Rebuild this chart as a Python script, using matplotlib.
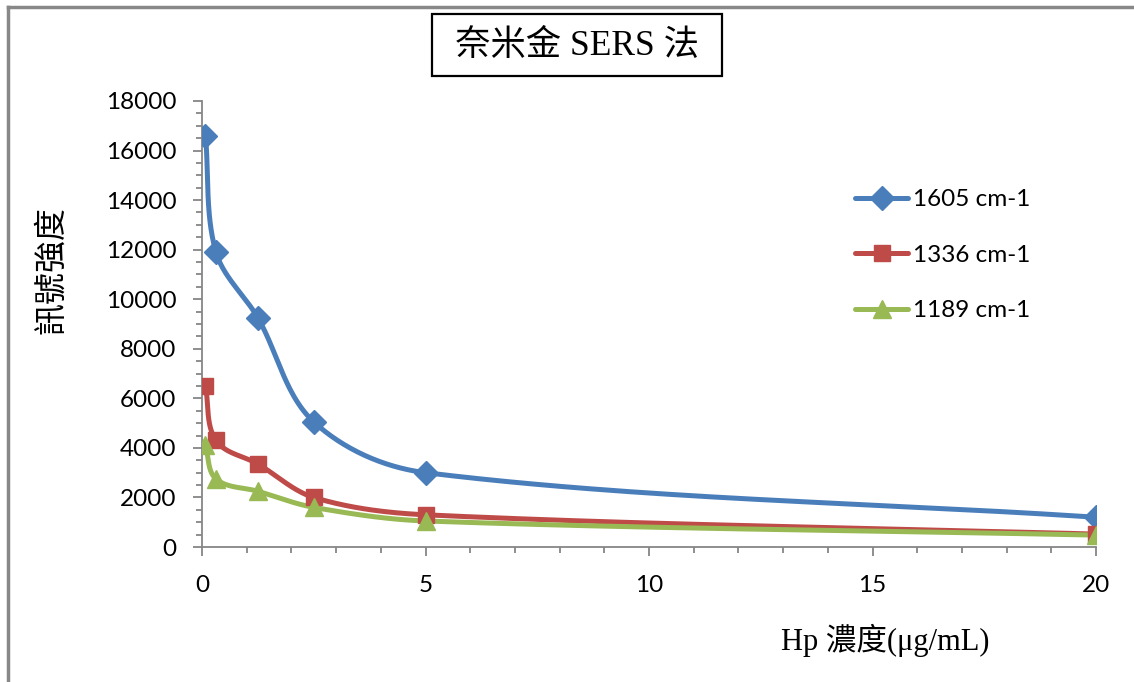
import matplotlib
matplotlib.use("Agg")
import matplotlib.pyplot as plt
from matplotlib.lines import Line2D
from matplotlib.patches import Rectangle
from matplotlib.ticker import MultipleLocator
import numpy as np

# concentrations (ug/mL) and signal intensities
conc = [0.078, 0.3125, 1.25, 2.5, 5, 20]
i1605 = [16600, 11900, 9250, 5050, 3000, 1200]
i1336 = [6500, 4300, 3350, 2000, 1300, 520]
i1189 = [4100, 2750, 2250, 1600, 1050, 480]
labels = ["1605 cm-1", "1336 cm-1", "1189 cm-1"]
colors = ["#4A7EBB", "#BE4B48", "#98B954"]
markers = ["D", "s", "^"]

W, H = 1134, 682
fig = plt.figure(figsize=(W / 100, H / 100), dpi=100)
ax = fig.add_axes([202 / W, 1 - 547 / H, (1096 - 202) / W, (547 - 101) / H])
ax.set_xlim(0, 20)
ax.set_ylim(0, 18000)

tick_font = ["Lato", "DejaVu Sans"]
serif_cjk = ["Liberation Serif", "Noto Sans CJK TC"]


def smooth(xs, ys, n=50):
    # Bezier smoothing in pixel space, tangent length tied to segment length
    pts = ax.transData.transform(np.column_stack([xs, ys]))
    ext = np.vstack([pts[0], pts, pts[-1]])
    tang = ext[2:] - ext[:-2]
    tang = tang / np.linalg.norm(tang, axis=1)[:, None]
    out = []
    for i in range(len(pts) - 1):
        p0, p3 = pts[i], pts[i + 1]
        d = np.linalg.norm(p3 - p0) / 3
        c1 = p0 + tang[i] * d
        c2 = p3 - tang[i + 1] * d
        t = np.linspace(0, 1, n)[:, None]
        seg = ((1 - t) ** 3 * p0 + 3 * (1 - t) ** 2 * t * c1
               + 3 * (1 - t) * t ** 2 * c2 + t ** 3 * p3)
        out.append(seg if i == 0 else seg[1:])
    out = np.vstack(out)
    return ax.transData.inverted().transform(out).T


handles = []
for ys, lab, c, m in zip([i1605, i1336, i1189], labels, colors, markers):
    sx, sy = smooth(conc, ys)
    ax.plot(sx, sy, color=c, lw=3.6, solid_capstyle="round", zorder=3)
    ms = {"D": 12, "s": 11.5, "^": 13}[m]
    ax.plot(conc, ys, ls="none", marker=m, ms=ms, color=c, mec=c, zorder=4)
    handles.append(Line2D([], [], color=c, lw=3.6, marker=m, ms=ms,
                          solid_capstyle="round"))

gray = "#868686"
for s in ["top", "right"]:
    ax.spines[s].set_visible(False)
for s in ["left", "bottom"]:
    ax.spines[s].set_color(gray)
    ax.spines[s].set_linewidth(1.3)

ax.xaxis.set_major_locator(MultipleLocator(5))
ax.xaxis.set_minor_locator(MultipleLocator(1))
ax.yaxis.set_major_locator(MultipleLocator(2000))
ax.yaxis.set_minor_locator(MultipleLocator(500))
ax.tick_params(which="both", direction="out", color=gray, width=1.3)
ax.tick_params(which="major", length=6.5)
ax.tick_params(which="minor", length=4)
ax.tick_params(axis="y", pad=12)
ax.tick_params(axis="x", pad=14)
for t in ax.get_xticklabels() + ax.get_yticklabels():
    t.set_family(tick_font)
    t.set_fontsize(17.5)

leg = ax.legend(handles, labels, loc="upper left",
                bbox_to_anchor=(855 / W, 1 - 189 / H),
                bbox_transform=fig.transFigure, frameon=False,
                prop={"family": tick_font, "size": 17.5},
                handlelength=2.2, handletextpad=0.2, labelspacing=1.42,
                borderaxespad=0, borderpad=0)

# title in a box
fig.add_artist(Rectangle((432 / W, 1 - 76 / H), (722 - 432) / W, 62 / H,
                         transform=fig.transFigure, fill=False,
                         edgecolor="black", lw=1.6))
fig.text(577 / W, 1 - 46 / H, "奈米金 SERS 法", ha="center", va="center",
         family=serif_cjk, fontsize=25.5)

fig.text(885 / W, 1 - 640 / H, "Hp 濃度(μg/mL)", ha="center", va="center",
         family=serif_cjk, fontsize=22)
fig.text(52 / W, 1 - 270 / H, "訊號強度", ha="center", va="center",
         rotation=90, family=serif_cjk, fontsize=23)

# outer chart border (left and top visible)
fig.add_artist(Line2D([8 / W, 8 / W], [0, 1 - 7 / H], transform=fig.transFigure,
                      color="#888888", lw=2.5))
fig.add_artist(Line2D([8 / W, 1], [1 - 7 / H, 1 - 7 / H],
                      transform=fig.transFigure, color="#888888", lw=2.5))

fig.savefig("out.png", dpi=100)
